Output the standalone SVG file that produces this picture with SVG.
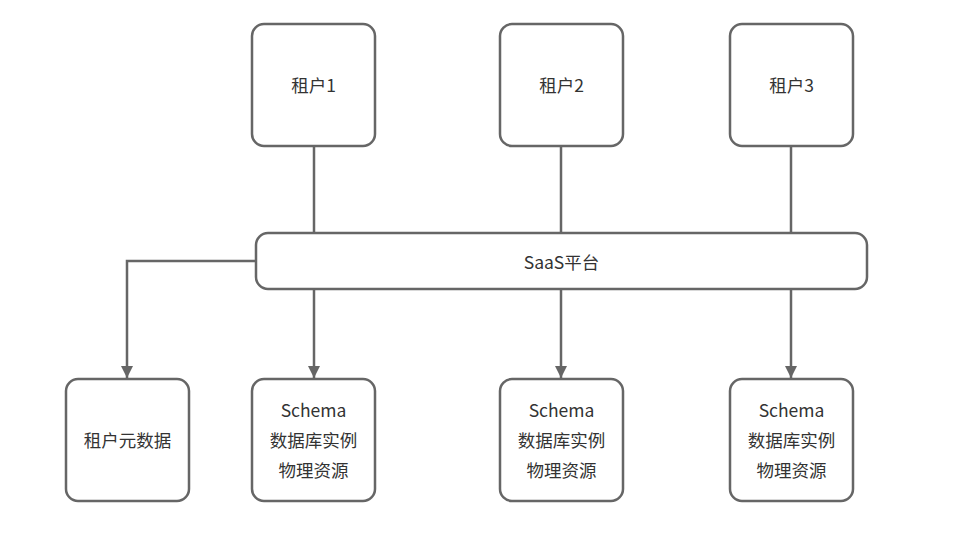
<svg xmlns="http://www.w3.org/2000/svg" width="968" height="549" viewBox="0 0 968 549">
<style>
.box{fill:#fff;stroke:#666;stroke-width:2.5}
.t{font-family:"Noto Sans CJK SC","Noto Sans",sans-serif;font-size:17.5px;fill:#333;text-anchor:middle;dominant-baseline:central}
.c{fill:none;stroke:#666;stroke-width:2.5}
</style>
<defs>
<marker id="arr" markerWidth="12" markerHeight="14" refX="12" refY="6" orient="auto" markerUnits="userSpaceOnUse">
<path d="M0,0 L12,6 L0,12 Z" fill="#666"/>
</marker>
</defs>
<rect width="968" height="549" fill="#fff"/>
<g id="connectors">
<path class="c" d="M314,146 V233"/>
<path class="c" d="M561,146 V233"/>
<path class="c" d="M791,146 V233"/>
<path class="c" d="M256,261 H127 V378" marker-end="url(#arr)"/>
<path class="c" d="M314,289 V378" marker-end="url(#arr)"/>
<path class="c" d="M561,289 V378" marker-end="url(#arr)"/>
<path class="c" d="M791,289 V378" marker-end="url(#arr)"/>
</g>
<g id="tenant1"><rect class="box" x="252" y="24" width="123" height="122" rx="12"/><text class="t" x="313.5" y="84">租户1</text></g>
<g id="tenant2"><rect class="box" x="500" y="24" width="123" height="122" rx="12"/><text class="t" x="561.5" y="84">租户2</text></g>
<g id="tenant3"><rect class="box" x="730" y="24" width="123" height="122" rx="12"/><text class="t" x="791.5" y="84">租户3</text></g>
<g id="saas"><rect class="box" x="256" y="233" width="611" height="56" rx="12"/><text class="t" x="561.5" y="261">SaaS平台</text></g>
<g id="meta"><rect class="box" x="66" y="379" width="123" height="122" rx="12"/><text class="t" x="127.5" y="439">租户元数据</text></g>
<g id="res1"><rect class="box" x="252" y="379" width="123" height="122" rx="12"/><text class="t" x="313.5" y="409">Schema</text><text class="t" x="313.5" y="439">数据库实例</text><text class="t" x="313.5" y="469">物理资源</text></g>
<g id="res2"><rect class="box" x="500" y="379" width="123" height="122" rx="12"/><text class="t" x="561.5" y="409">Schema</text><text class="t" x="561.5" y="439">数据库实例</text><text class="t" x="561.5" y="469">物理资源</text></g>
<g id="res3"><rect class="box" x="730" y="379" width="123" height="122" rx="12"/><text class="t" x="791.5" y="409">Schema</text><text class="t" x="791.5" y="439">数据库实例</text><text class="t" x="791.5" y="469">物理资源</text></g>
</svg>
